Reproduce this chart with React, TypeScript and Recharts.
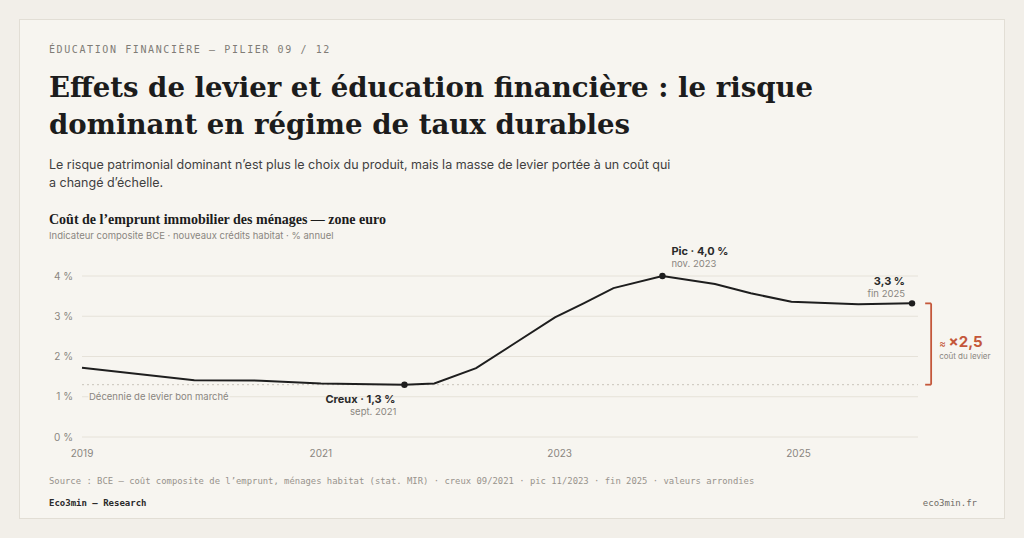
import React from "react";
import {
  LineChart,
  Line,
  XAxis,
  YAxis,
  CartesianGrid,
  ReferenceLine,
} from "recharts";

// decimal years (2021.67 = sept. 2021)
const periods = [
  2019.0, 2019.94, 2020.5, 2021.0, 2021.7, 2021.95, 2022.3, 2022.64, 2022.96,
  2023.2, 2023.45, 2023.86, 2024.3, 2024.6, 2024.94, 2025.5, 2025.95,
];
// coût composite de l'emprunt, % annuel
const rates = [
  1.72, 1.41, 1.4, 1.33, 1.3, 1.33, 1.71, 2.36, 2.97, 3.32, 3.7, 4.0, 3.8, 3.57,
  3.36, 3.3, 3.32,
];
const yearTicks = [2019, 2021, 2023, 2025];
const rateTicks = [0, 1, 2, 3, 4];
const troughLevel = 1.3;
const bracketX = 2026.11;
const bracketTick = 2026.06;

const data = periods.map((p, i) => ({ period: p, rate: rates[i] }));

const troughIdx = rates.indexOf(Math.min(...rates));
const peakIdx = rates.indexOf(Math.max(...rates));
const lastIdx = rates.length - 1;

const INK = "#1e1e1e";
const GREY = "#8a8680";
const ORANGE = "#c4573a";
const SANS = "Inter, 'Noto Sans', sans-serif";
const SERIF = "'DejaVu Serif', 'Liberation Serif', serif";
const SERIF_NARROW = "'Liberation Serif', 'DejaVu Serif', serif";
const MONO = "'DejaVu Sans Mono', 'Liberation Mono', monospace";

const fmt = (v: number) => v.toFixed(1).replace(".", ",");

const YTick = ({ x, y, payload }: any) => (
  <text x={x} y={y} dy="0.35em" textAnchor="end" fontSize={10} fill={GREY} fontFamily={SANS}>
    {`${payload.value} %`}
  </text>
);

const XTick = ({ x, y, payload }: any) => (
  <text x={x} y={y} dy="0.35em" textAnchor="middle" fontSize={10} fill={GREY} fontFamily={SANS}>
    {payload.value}
  </text>
);

const KeyDot = (props: any) => {
  const { cx, cy, index } = props;
  if (index !== troughIdx && index !== peakIdx && index !== lastIdx) {
    return <g key={`d${index}`} />;
  }
  const v = rates[index];
  let main = null;
  if (index === troughIdx) {
    main = (
      <>
        <text x={cx - 9} y={cy + 14} dy="0.35em" textAnchor="end" fontSize={11} fontWeight={700} fill="#2a2a2a" fontFamily={SANS}>
          {`Creux · ${fmt(v)} %`}
        </text>
        <text x={cx - 8} y={cy + 27} dy="0.35em" textAnchor="end" fontSize={9.5} fill={GREY} fontFamily={SANS}>
          sept. 2021
        </text>
      </>
    );
  } else if (index === peakIdx) {
    main = (
      <>
        <text x={cx + 9} y={cy - 25} dy="0.35em" fontSize={11} fontWeight={700} fill="#2a2a2a" fontFamily={SANS}>
          {`Pic · ${fmt(v)} %`}
        </text>
        <text x={cx + 9} y={cy - 12} dy="0.35em" fontSize={9.5} fill={GREY} fontFamily={SANS}>
          nov. 2023
        </text>
      </>
    );
  } else {
    main = (
      <>
        <text x={cx - 7} y={cy - 22} dy="0.35em" textAnchor="end" fontSize={11} fontWeight={700} fill="#2a2a2a" fontFamily={SANS}>
          {`${fmt(v)} %`}
        </text>
        <text x={cx - 7} y={cy - 10} dy="0.35em" textAnchor="end" fontSize={9.5} fill={GREY} fontFamily={SANS}>
          fin 2025
        </text>
      </>
    );
  }
  return (
    <g key={`d${index}`}>
      <circle cx={cx} cy={cy} r={3.2} fill={INK} />
      {main}
    </g>
  );
};

const CheapLabel = ({ viewBox }: any) => (
  <text
    x={viewBox.x + 7}
    y={viewBox.y}
    dy="0.35em"
    fontSize={9.5}
    fill={GREY}
    fontFamily={SANS}
    stroke="#f7f5f0"
    strokeWidth={3}
    paintOrder="stroke"
  >
    Décennie de levier bon marché
  </text>
);

const BracketLabel = ({ viewBox }: any) => {
  const x = viewBox.x + 8;
  const mid = viewBox.y + viewBox.height / 2;
  return (
    <g fontFamily={SANS}>
      <text x={x} y={mid - 3} dy="0.35em" fill={ORANGE}>
        <tspan fontSize={10}>≈ </tspan>
        <tspan fontSize={15} fontWeight={700}>×2,5</tspan>
      </text>
      <text x={x} y={mid + 12} dy="0.35em" fontSize={8} fill={GREY}>
        coût du levier
      </text>
    </g>
  );
};

export default function App() {
  const last = rates[lastIdx];
  return (
    <div
      style={{
        position: "absolute",
        left: 0,
        top: 0,
        width: 1024,
        height: 538,
        background: "#f2efe9",
        overflow: "hidden",
      }}
    >
      <div
        style={{
          position: "absolute",
          left: 19,
          top: 19,
          width: 984,
          height: 498,
          background: "#f7f5f0",
          border: "1px solid #e2ded5",
        }}
      >
        <div
          style={{
            position: "absolute",
            left: 29,
            top: 24,
            fontFamily: MONO,
            fontSize: 10,
            lineHeight: "12px",
            letterSpacing: 1.6,
            color: "#807c76",
            whiteSpace: "nowrap",
          }}
        >
          ÉDUCATION FINANCIÈRE — PILIER 09 / 12
        </div>
        <div
          style={{
            position: "absolute",
            left: 29,
            top: 50,
            width: 950,
            fontFamily: SERIF,
            fontWeight: 700,
            fontSize: 27.6,
            lineHeight: "36.5px",
            color: "#1c1c1c",
            whiteSpace: "nowrap",
          }}
        >
          Effets de levier et éducation financière : le risque
          <br />
          dominant en régime de taux durables
        </div>
        <div
          style={{
            position: "absolute",
            left: 29,
            top: 136,
            width: 700,
            fontFamily: SANS,
            fontSize: 12.5,
            lineHeight: "18px",
            color: "#3f3f3f",
            whiteSpace: "nowrap",
          }}
        >
          Le risque patrimonial dominant n’est plus le choix du produit, mais la masse de levier portée à un coût qui
          <br />
          a changé d’échelle.
        </div>
        <div
          style={{
            position: "absolute",
            left: 29,
            top: 191,
            fontFamily: SERIF_NARROW,
            fontWeight: 700,
            fontSize: 14,
            lineHeight: "18px",
            color: "#1c1c1c",
            whiteSpace: "nowrap",
          }}
        >
          Coût de l’emprunt immobilier des ménages — zone euro
        </div>
        <div
          style={{
            position: "absolute",
            left: 29,
            top: 209,
            fontFamily: SANS,
            fontSize: 9.5,
            lineHeight: "13px",
            color: GREY,
            whiteSpace: "nowrap",
          }}
        >
          Indicateur composite BCE · nouveaux crédits habitat · % annuel
        </div>
        <div
          style={{
            position: "absolute",
            left: 29,
            top: 455,
            fontFamily: MONO,
            fontSize: 8.9,
            lineHeight: "12px",
            color: "#97938c",
            whiteSpace: "nowrap",
          }}
        >
          Source : BCE — coût composite de l’emprunt, ménages habitat (stat. MIR) · creux 09/2021 · pic 11/2023 · fin 2025 · valeurs arrondies
        </div>
        <div
          style={{
            position: "absolute",
            left: 29,
            top: 477,
            fontFamily: MONO,
            fontSize: 9,
            fontWeight: 700,
            lineHeight: "12px",
            color: "#2a2a2a",
            whiteSpace: "nowrap",
          }}
        >
          Eco3min — Research
        </div>
        <div
          style={{
            position: "absolute",
            right: 27,
            top: 477,
            fontFamily: MONO,
            fontSize: 9,
            lineHeight: "12px",
            color: "#6f6b65",
            whiteSpace: "nowrap",
          }}
        >
          eco3min.fr
        </div>
      </div>

      <div style={{ position: "absolute", left: 0, top: 240 }}>
        <LineChart
          width={1024}
          height={230}
          data={data}
          margin={{ top: 36, right: 106, bottom: 0, left: 0 }}
        >
          <CartesianGrid vertical={false} stroke="#e6e2d9" strokeWidth={1} />
          <XAxis
            dataKey="period"
            type="number"
            domain={[2019, 2026]}
            ticks={yearTicks}
            axisLine={false}
            tickLine={false}
            tickSize={0}
            tickMargin={16}
            height={33}
            tick={<XTick />}
          />
          <YAxis
            domain={[0, 4]}
            ticks={rateTicks}
            axisLine={false}
            tickLine={false}
            tickSize={0}
            tickMargin={9}
            width={82}
            tick={<YTick />}
          />
          <ReferenceLine y={1} stroke="none" label={<CheapLabel />} />
          <ReferenceLine
            y={troughLevel}
            stroke="#c9c4bb"
            strokeDasharray="2 3"
            strokeWidth={1}
          />
          <ReferenceLine
            segment={[
              { x: bracketX, y: last },
              { x: bracketX, y: troughLevel },
            ]}
            stroke={ORANGE}
            strokeWidth={1.8}
            ifOverflow="visible"
            label={<BracketLabel />}
          />
          <ReferenceLine
            segment={[
              { x: bracketTick, y: last },
              { x: bracketX, y: last },
            ]}
            stroke={ORANGE}
            strokeWidth={1.8}
            ifOverflow="visible"
          />
          <ReferenceLine
            segment={[
              { x: bracketTick, y: troughLevel },
              { x: bracketX, y: troughLevel },
            ]}
            stroke={ORANGE}
            strokeWidth={1.8}
            ifOverflow="visible"
          />
          <Line
            dataKey="rate"
            type="linear"
            stroke={INK}
            strokeWidth={2}
            dot={KeyDot}
            activeDot={false}
            isAnimationActive={false}
          />
        </LineChart>
      </div>
    </div>
  );
}
